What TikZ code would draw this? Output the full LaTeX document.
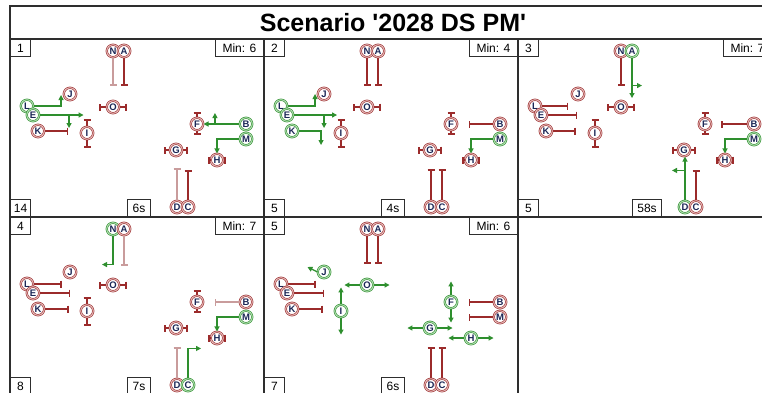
\documentclass[tikz,border=0pt]{standalone}
\usepackage{fontspec}
\setmainfont{Liberation Sans}[Ligatures=TeXOff]
\usetikzlibrary{arrows.meta,positioning}
\definecolor{Frame}{HTML}{2E2E2E}
\definecolor{Stop}{HTML}{9B2B2B}
\definecolor{StopPale}{HTML}{C99C9C}
\definecolor{RingPale}{HTML}{E8C2C2}
\definecolor{Go}{HTML}{2E8F2E}
\definecolor{GoPale}{HTML}{B8E0B8}
\definecolor{Ink}{HTML}{1B2756}

\tikzset{
  sig/.style={circle,draw=Stop,double=RingPale,double distance=1pt,line width=0.6pt,
    fill=white,inner sep=0pt,minimum size=12.5pt,text=Ink,
    font=\bfseries\fontsize{9.5}{9.5}\selectfont},
  gosig/.style={draw=Go,double=GoPale},
  stopline/.style={Stop,line width=1.4pt,-{Bar[width=7pt,line width=1.4pt]}},
  paleline/.style={stopline,StopPale},
  goline/.style={Go,line width=1.2pt,-{Triangle[length=5pt,width=5pt]}},
  panel/.style={draw=Frame,line width=1.2pt},
  tag/.style={draw=Frame,line width=1.1pt,fill=white,minimum height=17pt,
    inner xsep=5pt,inner ysep=0pt,font=\fontsize{12}{12}\selectfont},
  sigA/.style={},sigB/.style={},sigC/.style={},sigD/.style={},sigE/.style={},
  sigF/.style={},sigG/.style={},sigH/.style={},sigI/.style={},sigJ/.style={},
  sigK/.style={},sigL/.style={},sigM/.style={},sigN/.style={},sigO/.style={}
}

% the 15 signal heads of one panel, named s<panel><letter>
\newcommand\placesignals[1]{%
  \foreach \s/\x/\y in {N/103/12,A/114/12,J/60/55,L/17/67,E/23/76,K/28/92,
      O/103/68,I/77/94,F/187/85,B/236/85,M/236/100,G/166/111,H/207/121,
      D/167/168,C/178/168}{%
    \edef\drawsig{\noexpand\node[sig,sig\s] (s#1\s) at (\x,\y) {\s};}\drawsig}}

\begin{document}
\begin{tikzpicture}[x=1pt,y=-1pt]
  \clip (0,0) rectangle (762,392);
  \fill[white] (0,0) rectangle (762,392);
  \draw[panel] (10,6) rectangle (790,39);
  \node[font=\bfseries\fontsize{25}{25}\selectfont] (title) at (393,23) {Scenario '2028 DS PM'};

  % panel 1
  \begin{scope}[shift={(10,39)},sigL/.style=gosig,sigE/.style=gosig,sigB/.style=gosig,sigM/.style=gosig]
    \draw[panel] (0,0) rectangle (254,178);
    \placesignals{1}
    \draw[paleline] (s1N.south) -- ++(0,28);
    \draw[stopline] (s1A.south) -- ++(0,28);
    \draw[goline] (s1L.east) -- ++(27.5,0) -- ++(0,-11);
    \draw[goline] (s1E.east) -- ++(44,0);
    \draw[goline] ([xshift=29.5pt]s1E.east) -- ++(0,13);
    \draw[stopline] (s1K.east) -- ++(23.5,0);
    \draw[stopline] (s1O.west) -- ++(-7,0);
    \draw[stopline] (s1O.east) -- ++(7,0);
    \draw[stopline] (s1I.north) -- ++(0,-7);
    \draw[stopline] (s1I.south) -- ++(0,8);
    \draw[stopline] (s1F.north) -- ++(0,-5);
    \draw[stopline] (s1F.south) -- ++(0,4);
    \draw[goline] (s1B.west) -- (s1F.east);
    \draw[goline] ([xshift=-24.5pt]s1B.west) -- ++(0,-11);
    \draw[goline] (s1M.west) -| (s1H.north);
    \draw[stopline] (s1G.west) -- ++(-5,0);
    \draw[stopline] (s1G.east) -- ++(5,0);
    \draw[stopline] (s1H.west) -- ++(-2,0);
    \draw[stopline] (s1H.east) -- ++(2,0);
    \draw[paleline] (s1D.north) -- ++(0,-32);
    \draw[stopline] (s1C.north) -- ++(0,-30);
    \node[tag,anchor=north west,minimum width=20pt,inner xsep=2pt] (n1) at (0,0) {1};
    \node[tag,anchor=north east,minimum width=48pt] (m1) at (254,0) {Min: 6};
    \node[tag,anchor=south west,minimum width=20pt,inner xsep=2pt] (c1) at (0,178) {14};
    \node[tag,anchor=south] (t1) at (129,178) {6s};
  \end{scope}

  % panel 2
  \begin{scope}[shift={(264,39)},sigL/.style=gosig,sigE/.style=gosig,sigK/.style=gosig,sigM/.style=gosig]
    \draw[panel] (0,0) rectangle (254,178);
    \placesignals{2}
    \draw[stopline] (s2N.south) -- ++(0,28);
    \draw[stopline] (s2A.south) -- ++(0,28);
    \draw[goline] (s2L.east) -- ++(27.5,0) -- ++(0,-12);
    \draw[goline] (s2E.east) -- ++(43.5,0);
    \draw[goline] ([xshift=30.5pt]s2E.east) -- ++(0,13);
    \draw[goline] (s2K.east) -- ++(22.5,0) -- ++(0,14);
    \draw[stopline] (s2O.west) -- ++(-7,0);
    \draw[stopline] (s2O.east) -- ++(7,0);
    \draw[stopline] (s2I.north) -- ++(0,-7);
    \draw[stopline] (s2I.south) -- ++(0,8);
    \draw[stopline] (s2F.north) -- ++(0,-5);
    \draw[stopline] (s2F.south) -- ++(0,4);
    \draw[stopline] (s2B.west) -- ++(-24.5,0);
    \draw[goline] (s2M.west) -| (s2H.north);
    \draw[stopline] (s2G.west) -- ++(-5,0);
    \draw[stopline] (s2G.east) -- ++(5,0);
    \draw[stopline] (s2H.west) -- ++(-2,0);
    \draw[stopline] (s2H.east) -- ++(2,0);
    \draw[stopline] (s2D.north) -- ++(0,-31);
    \draw[stopline] (s2C.north) -- ++(0,-31);
    \node[tag,anchor=north west,minimum width=20pt,inner xsep=2pt] (n2) at (0,0) {2};
    \node[tag,anchor=north east,minimum width=48pt] (m2) at (254,0) {Min: 4};
    \node[tag,anchor=south west,minimum width=20pt,inner xsep=2pt] (c2) at (0,178) {5};
    \node[tag,anchor=south] (t2) at (129,178) {4s};
  \end{scope}

  % panel 3
  \begin{scope}[shift={(518,39)},sigA/.style=gosig,sigM/.style=gosig,sigD/.style=gosig]
    \draw[panel] (0,0) rectangle (254,178);
    \placesignals{3}
    \draw[stopline] (s3N.south) -- ++(0,28);
    \draw[goline] (s3A.south) -- ++(0,40.5);
    \draw[goline] ([yshift=-28pt]s3A.south) -- ++(10,0);
    \draw[stopline] (s3L.east) -- ++(26.5,0);
    \draw[stopline] (s3E.east) -- ++(29.5,0);
    \draw[stopline] (s3K.east) -- ++(23,0);
    \draw[stopline] (s3O.west) -- ++(-7,0);
    \draw[stopline] (s3O.east) -- ++(7,0);
    \draw[stopline] (s3I.north) -- ++(0,-7);
    \draw[stopline] (s3I.south) -- ++(0,8);
    \draw[stopline] (s3F.north) -- ++(0,-5);
    \draw[stopline] (s3F.south) -- ++(0,4);
    \draw[stopline] (s3B.west) -- ++(-26,0);
    \draw[goline] (s3M.west) -| (s3H.north);
    \draw[stopline] (s3G.west) -- ++(-5,0);
    \draw[stopline] (s3G.east) -- ++(5,0);
    \draw[stopline] (s3H.west) -- ++(-2,0);
    \draw[stopline] (s3H.east) -- ++(2,0);
    \draw[goline] (s3D.north) -- (s3D.north |- s3G.south);
    \draw[goline] ([yshift=30pt]s3D.north) -- ++(-13,0);
    \draw[stopline] (s3C.north) -- ++(0,-30);
    \node[tag,anchor=north west,minimum width=20pt,inner xsep=2pt] (n3) at (0,0) {3};
    \node[tag,anchor=north east,minimum width=48pt] (m3) at (254,0) {Min: 7};
    \node[tag,anchor=south west,minimum width=20pt,inner xsep=2pt] (c3) at (0,178) {5};
    \node[tag,anchor=south] (t3) at (129,178) {58s};
  \end{scope}

  % panel 4
  \begin{scope}[shift={(10,217)},sigN/.style=gosig,sigM/.style=gosig,sigC/.style=gosig]
    \draw[panel] (0,0) rectangle (254,178);
    \placesignals{4}
    \draw[goline] (s4N.south) -- ++(0,29) -- ++(-11,0);
    \draw[paleline] (s4A.south) -- ++(0,30);
    \draw[stopline] (s4L.east) -- ++(28,0);
    \draw[stopline] (s4E.east) -- ++(30.5,0);
    \draw[stopline] (s4K.east) -- ++(24,0);
    \draw[stopline] (s4O.west) -- ++(-7,0);
    \draw[stopline] (s4O.east) -- ++(7,0);
    \draw[stopline] (s4I.north) -- ++(0,-7);
    \draw[stopline] (s4I.south) -- ++(0,8);
    \draw[stopline] (s4F.north) -- ++(0,-5);
    \draw[stopline] (s4F.south) -- ++(0,4);
    \draw[paleline] (s4B.west) -- ++(-24.5,0);
    \draw[goline] (s4M.west) -| (s4H.north);
    \draw[stopline] (s4G.west) -- ++(-5,0);
    \draw[stopline] (s4G.east) -- ++(5,0);
    \draw[stopline] (s4H.west) -- ++(-2,0);
    \draw[stopline] (s4H.east) -- ++(2,0);
    \draw[paleline] (s4D.north) -- ++(0,-31);
    \draw[goline] (s4C.north) -- ++(0,-30) -- ++(13,0);
    \node[tag,anchor=north west,minimum width=20pt,inner xsep=2pt] (n4) at (0,0) {4};
    \node[tag,anchor=north east,minimum width=48pt] (m4) at (254,0) {Min: 7};
    \node[tag,anchor=south west,minimum width=20pt,inner xsep=2pt] (c4) at (0,178) {8};
    \node[tag,anchor=south] (t4) at (129,178) {7s};
  \end{scope}

  % panel 5
  \begin{scope}[shift={(264,217)},sigJ/.style=gosig,sigO/.style=gosig,sigI/.style=gosig,
      sigF/.style=gosig,sigG/.style=gosig,sigH/.style=gosig]
    \draw[panel] (0,0) rectangle (254,178);
    \placesignals{5}
    \draw[stopline] (s5N.south) -- ++(0,28);
    \draw[stopline] (s5A.south) -- ++(0,28);
    \draw[goline] (s5J.west) -- ++(-10,-5);
    \draw[stopline] (s5L.east) -- ++(28,0);
    \draw[stopline] (s5E.east) -- ++(30.5,0);
    \draw[stopline] (s5K.east) -- ++(24,0);
    \draw[goline] (s5O.west) -- ++(-16,0);
    \draw[goline] (s5O.east) -- ++(16,0);
    \draw[goline] (s5I.north) -- ++(0,-17);
    \draw[goline] (s5I.south) -- ++(0,17);
    \draw[goline] (s5F.north) -- ++(0,-14);
    \draw[goline] (s5F.south) -- ++(0,14);
    \draw[stopline] (s5B.west) -- ++(-24.5,0);
    \draw[stopline] (s5M.west) -- ++(-24.5,0);
    \draw[goline] (s5G.west) -- ++(-16,0);
    \draw[goline] (s5G.east) -- ++(16,0);
    \draw[goline] (s5H.west) -- ++(-16,0);
    \draw[goline] (s5H.east) -- ++(16,0);
    \draw[stopline] (s5D.north) -- ++(0,-31);
    \draw[stopline] (s5C.north) -- ++(0,-31);
    \node[tag,anchor=north west,minimum width=20pt,inner xsep=2pt] (n5) at (0,0) {5};
    \node[tag,anchor=north east,minimum width=48pt] (m5) at (254,0) {Min: 6};
    \node[tag,anchor=south west,minimum width=20pt,inner xsep=2pt] (c5) at (0,178) {7};
    \node[tag,anchor=south] (t5) at (129,178) {6s};
  \end{scope}
\end{tikzpicture}
\end{document}
